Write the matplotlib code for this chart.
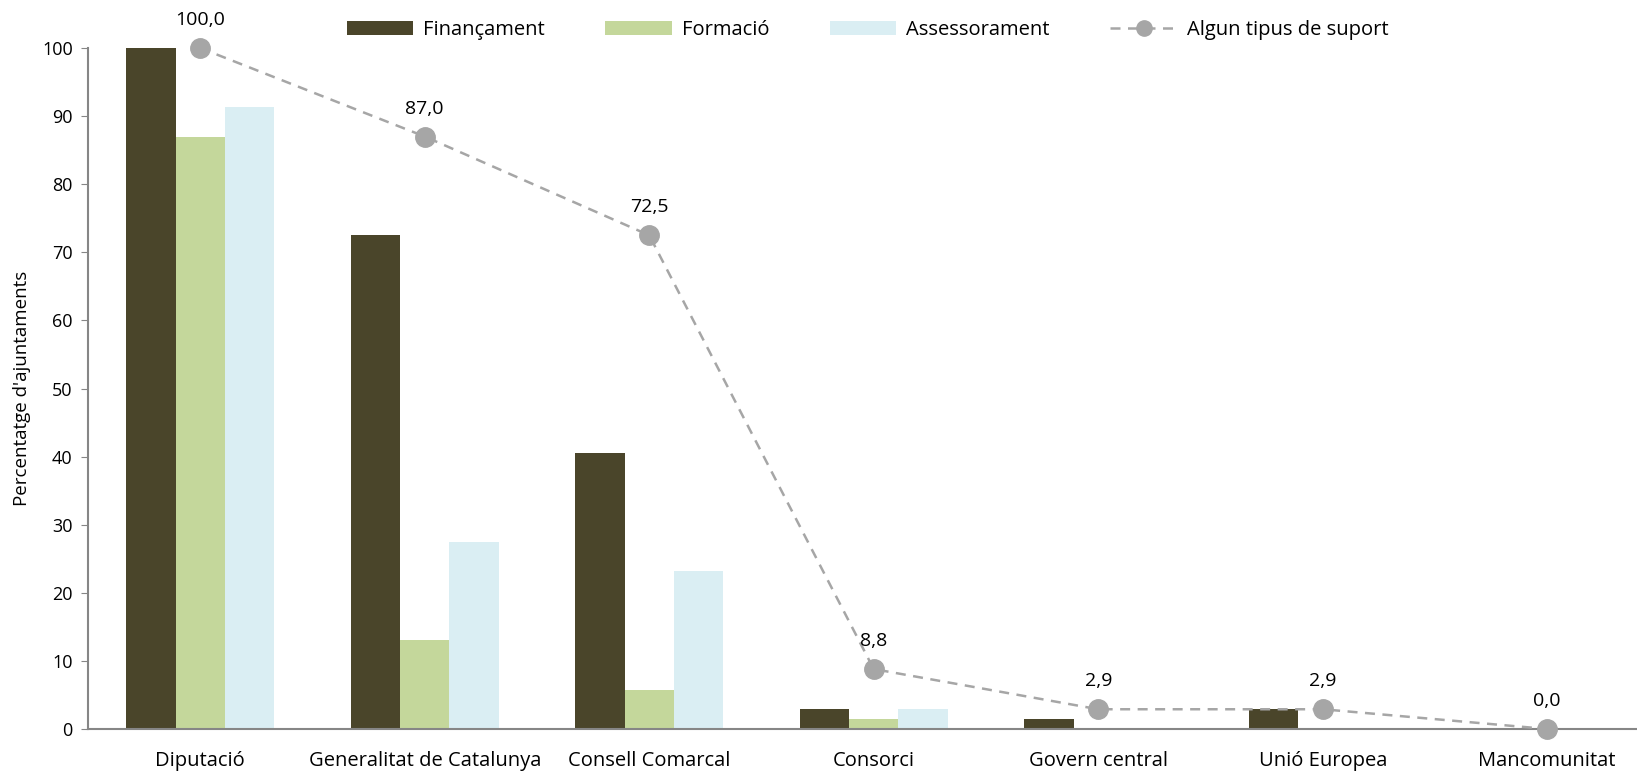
import matplotlib
matplotlib.use("Agg")
import matplotlib.pyplot as plt
import numpy as np

categories = ["Diputació", "Generalitat de Catalunya", "Consell Comarcal", "Consorci",
              "Govern central", "Unió Europea", "Mancomunitat"]
financament = [100.0, 72.5, 40.6, 2.9, 1.4, 2.9, 0.0]
formacio = [87.0, 13.0, 5.8, 1.5, 0.0, 0.0, 0.0]
assessorament = [91.3, 27.5, 23.2, 2.9, 0.0, 0.0, 0.0]
algun = [100.0, 87.0, 72.5, 8.8, 2.9, 2.9, 0.0]
yticks = [0, 10, 20, 30, 40, 50, 60, 70, 80, 90, 100]

plt.rcParams['font.family'] = ['Open Sans', 'DejaVu Sans']

W, H = 1637, 773
fig = plt.figure(figsize=(W / 100, H / 100), dpi=100)
ax = fig.add_axes([88 / W, 44 / H, (W - 88) / W, (729 - 48) / H])

x = np.arange(len(categories))
w = 0.22
ax.bar(x - w, financament, w, color="#4A452A", label="Finançament", zorder=2)
ax.bar(x, formacio, w, color="#C4D79B", label="Formació", zorder=2)
ax.bar(x + w, assessorament, w, color="#DAEEF3", label="Assessorament", zorder=2)
ax.plot(x, algun, color="#A6A6A6", linestyle=(0, (4, 3)), linewidth=1.8,
        marker="o", markersize=14, markerfacecolor="#A6A6A6", markeredgecolor="#A6A6A6",
        label="Algun tipus de suport", zorder=3, clip_on=False)
for xi, v in zip(x, algun):
    ax.annotate(f"{v:.1f}".replace(".", ","), (xi, v), xytext=(0, 20),
                textcoords="offset points", ha="center", va="center", fontsize=14)

ax.set_xlim(-0.5, 6.4)
ax.set_ylim(0, 100)
ax.set_yticks(yticks)
ax.set_xticks(x)
ax.set_xticklabels(categories, fontsize=14.5)
ax.tick_params(axis="x", length=0, pad=16)
ax.tick_params(axis="y", length=5, color="#868686", labelsize=13, pad=6)
for s in ["top", "right"]:
    ax.spines[s].set_visible(False)
for s in ["left", "bottom"]:
    ax.spines[s].set_color("#868686")
    ax.spines[s].set_linewidth(1.5)
ax.set_ylabel("Percentatge d'ajuntaments", fontsize=13.5, labelpad=8)

h, l = ax.get_legend_handles_labels()
order = [1, 2, 3, 0]
leg = fig.legend([h[i] for i in order], [l[i] for i in order], loc="center",
                 bbox_to_anchor=(0.53, 0.961), ncol=4, frameon=False,
                 fontsize=14.5, handlelength=3.3, handleheight=0.7, columnspacing=3.0,
                 handletextpad=0.5)
leg.legend_handles[3].set_markersize(11)

fig.savefig("out.png", dpi=100)
